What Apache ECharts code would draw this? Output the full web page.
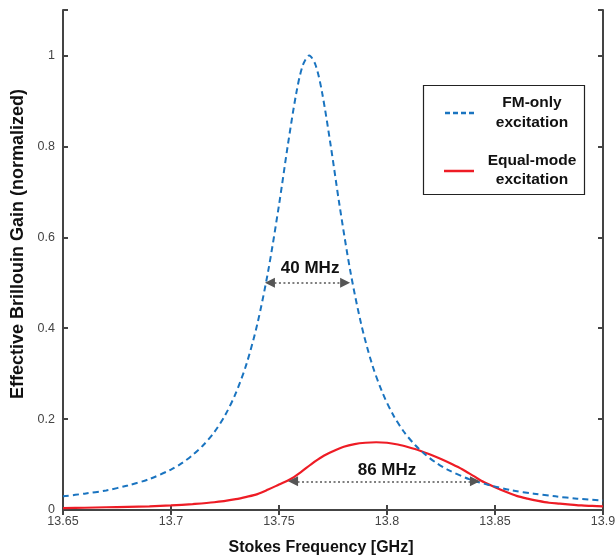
<!DOCTYPE html>
<html>
<head>
<meta charset="utf-8">
<script src="https://cdn.jsdelivr.net/npm/echarts@6/dist/echarts.min.js"></script>
<style>
html,body{margin:0;padding:0;background:#fff;}
#chart{width:616px;height:556px;}
</style>
</head>
<body>
<div id="chart"></div>
<script>
// X axis ticks (GHz)
const xTicks = [13.65, 13.7, 13.75, 13.8, 13.85, 13.9];
const yTicks = [0, 0.2, 0.4, 0.6, 0.8, 1];

// FM-only excitation (blue dashed)
const freqFM = [13.65, 13.66, 13.67, 13.68, 13.69, 13.70, 13.705, 13.71, 13.715, 13.72, 13.725, 13.73, 13.735, 13.74, 13.745, 13.75, 13.754, 13.758, 13.761, 13.764, 13.767, 13.770, 13.774, 13.778, 13.783, 13.788, 13.793, 13.798, 13.803, 13.808, 13.813, 13.818, 13.823, 13.828, 13.838, 13.848, 13.858, 13.868, 13.878, 13.888, 13.9];
const gainFM = [0.030, 0.036, 0.043, 0.054, 0.068, 0.089, 0.103, 0.121, 0.143, 0.171, 0.208, 0.257, 0.322, 0.410, 0.526, 0.671, 0.800, 0.917, 0.978, 1.000, 0.978, 0.917, 0.800, 0.671, 0.526, 0.410, 0.322, 0.257, 0.208, 0.171, 0.143, 0.121, 0.103, 0.089, 0.068, 0.054, 0.043, 0.036, 0.030, 0.025, 0.021];

// Equal-mode excitation (red solid)
const freqEQ = [13.65, 13.66, 13.67, 13.68, 13.69, 13.70, 13.71, 13.72, 13.73, 13.735, 13.74, 13.745, 13.75, 13.755, 13.76, 13.765, 13.77, 13.775, 13.78, 13.785, 13.79, 13.795, 13.80, 13.805, 13.81, 13.815, 13.82, 13.825, 13.83, 13.835, 13.84, 13.845, 13.85, 13.855, 13.86, 13.865, 13.87, 13.875, 13.88, 13.885, 13.89, 13.895, 13.90];
const gainEQ = [0.004, 0.005, 0.006, 0.007, 0.008, 0.010, 0.013, 0.017, 0.024, 0.029, 0.035, 0.045, 0.056, 0.067, 0.083, 0.101, 0.117, 0.129, 0.139, 0.145, 0.148, 0.149, 0.148, 0.144, 0.138, 0.131, 0.122, 0.112, 0.101, 0.089, 0.075, 0.061, 0.050, 0.040, 0.031, 0.025, 0.020, 0.016, 0.014, 0.012, 0.010, 0.009, 0.008];

// Linewidth annotations: arrowhead centres [x start, x end, y level], label text and position
const fwhmFM = [13.7458, 13.7806, 0.5];
const fwhmEQ = [13.7565, 13.8407, 0.063];
const labelFM = ['40 MHz', 13.7644, 0.532];
const labelEQ = ['86 MHz', 13.8000, 0.088];

const legendNames = ['FM-only\nexcitation', 'Equal-mode\nexcitation'];

const BLUE = '#1a74c0';
const RED = '#ee1c25';
const AXIS = '#444444';
const FONT = 'Liberation Sans, Arial, Helvetica, sans-serif';

function zip(a, b) { return a.map((v, i) => [v, b[i]]); }

const chart = echarts.init(document.getElementById('chart'), null, {renderer: 'canvas'});

const axisCommonX = {
  type: 'value', min: xTicks[0], max: xTicks[xTicks.length - 1], interval: 0.05,
  axisLine: {show: true, lineStyle: {color: AXIS, width: 2}},
  axisTick: {show: true, inside: true, length: 5, lineStyle: {color: AXIS, width: 2}},
  splitLine: {show: false}
};
const axisCommonY = {
  type: 'value', min: 0, max: 1.1, interval: 0.2,
  axisLine: {show: true, lineStyle: {color: AXIS, width: 2}},
  axisTick: {show: true, inside: true, length: 5, lineStyle: {color: AXIS, width: 2}},
  splitLine: {show: false}
};

function annotLine(seg) {
  return {
    silent: true,
    symbol: ['triangle', 'triangle'],
    symbolSize: 10,
    lineStyle: {color: '#555', type: [2, 2.5], width: 1.5},
    itemStyle: {color: '#555'},
    label: {show: false},
    data: [[{coord: [seg[0], seg[2]]}, {coord: [seg[1], seg[2]]}]]
  };
}
function annotText(lbl) {
  return {
    silent: true,
    symbol: 'circle', symbolSize: 1,
    itemStyle: {color: 'rgba(0,0,0,0)'},
    label: {show: true, position: 'inside', formatter: lbl[0], fontFamily: FONT, fontWeight: 'bold', fontSize: 17, color: '#111'},
    data: [{coord: [lbl[1], lbl[2]]}]
  };
}

chart.setOption({
  animation: false,
  backgroundColor: '#fff',
  grid: {left: 63, right: 13, top: 10, bottom: 46, containLabel: false, outerBoundsMode: 'none'},
  xAxis: [
    Object.assign({}, axisCommonX, {
      position: 'bottom',
      name: 'Stokes Frequency [GHz]', nameLocation: 'middle', nameGap: 30,
      nameTextStyle: {fontFamily: FONT, fontWeight: 'bold', fontSize: 16, color: '#111', padding: [0, 24, 0, 0]},
      axisLabel: {show: true, margin: 5, fontFamily: FONT, fontSize: 12.5, color: '#444',
        showMinLabel: true, showMaxLabel: true,
        formatter: v => xTicks.some(t => Math.abs(t - v) < 1e-6) ? String(+v.toFixed(2)) : ''}
    }),
    Object.assign({}, axisCommonX, {position: 'top', axisLabel: {show: false}})
  ],
  yAxis: [
    Object.assign({}, axisCommonY, {
      position: 'left',
      name: 'Effective Brillouin Gain (normalized)', nameLocation: 'middle', nameGap: 36,
      nameTextStyle: {fontFamily: FONT, fontWeight: 'bold', fontSize: 18, color: '#111', padding: [0, 0, 0, 32]},
      axisLabel: {show: true, margin: 8, fontFamily: FONT, fontSize: 12.5, color: '#444',
        formatter: v => yTicks.some(t => Math.abs(t - v) < 1e-6) ? String(+v.toFixed(1)) : ''}
    }),
    Object.assign({}, axisCommonY, {position: 'right', axisLabel: {show: false}})
  ],
  series: [
    {
      name: 'FM-only excitation', type: 'line', xAxisIndex: 0, yAxisIndex: 0,
      data: zip(freqFM, gainFM), showSymbol: false, smooth: 0.3,
      lineStyle: {color: BLUE, width: 2, type: [6, 4]},
      markLine: annotLine(fwhmFM),
      markPoint: annotText(labelFM),
      z: 3
    },
    {
      name: 'Equal-mode excitation', type: 'line', xAxisIndex: 0, yAxisIndex: 0,
      data: zip(freqEQ, gainEQ), showSymbol: false, smooth: 0.3,
      lineStyle: {color: RED, width: 2.2},
      markLine: annotLine(fwhmEQ),
      markPoint: annotText(labelEQ),
      z: 2
    }
  ],
  graphic: [
    {type: 'rect', shape: {x: 423.5, y: 85.5, width: 161, height: 109}, style: {fill: '#fff', stroke: '#222', lineWidth: 1.2}, z: 10},
    {type: 'line', shape: {x1: 445, y1: 113, x2: 475, y2: 113}, style: {stroke: BLUE, lineWidth: 2.5, lineDash: [5, 3]}, z: 11},
    {type: 'line', shape: {x1: 444, y1: 171, x2: 474, y2: 171}, style: {stroke: RED, lineWidth: 2.5}, z: 11},
    {type: 'text', x: 532, y: 113, style: {text: legendNames[0], textAlign: 'center', textVerticalAlign: 'middle', font: 'bold 15.5px ' + FONT, fill: '#111', lineHeight: 20}, z: 11},
    {type: 'text', x: 532, y: 170, style: {text: legendNames[1], textAlign: 'center', textVerticalAlign: 'middle', font: 'bold 15.5px ' + FONT, fill: '#111', lineHeight: 19}, z: 11}
  ]
});
</script>
</body>
</html>
